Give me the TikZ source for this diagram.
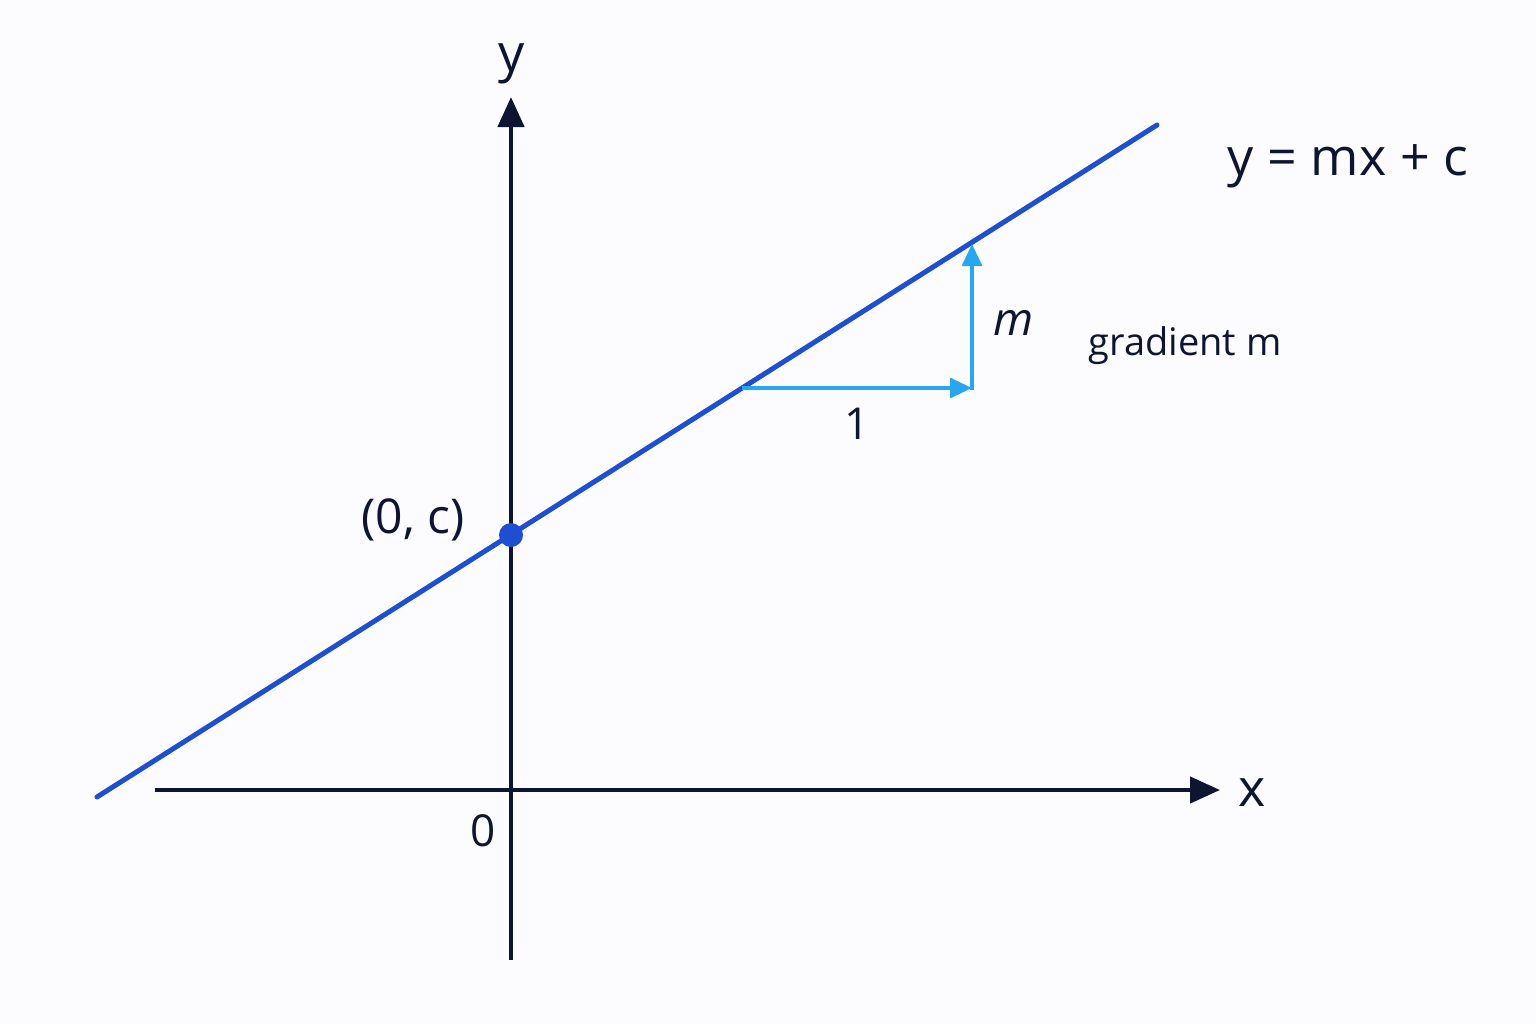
\documentclass[tikz,border=0pt]{standalone}
\usepackage{fontspec}
\setmainfont{Open Sans}
\usetikzlibrary{arrows.meta}
\definecolor{axiscol}{HTML}{0E1533}
\definecolor{linecol}{HTML}{1E4FD0}
\definecolor{stepcol}{HTML}{28A6F0}
\definecolor{bgcol}{HTML}{FCFCFE}
\tikzset{
  axis/.style={draw=axiscol, line width=2.2pt, -{Triangle[length=15pt,width=13pt]}},
  mainline/.style={draw=linecol, line width=2.5pt, line cap=round},
  steparrow/.style={draw=stepcol, line width=1.7pt, -{Triangle[length=11pt,width=10pt]}},
  lbl/.style={text=axiscol, inner sep=0pt, anchor=center},
}
\begin{document}
\begin{tikzpicture}[x=0.5pt,y=-0.5pt]
\fill[bgcol] (0,0) rectangle (1536,1024);
\useasboundingbox (0,0) rectangle (1536,1024);
% axes
\coordinate (xs) at (155,790);
\coordinate (xe) at (1220,790);
\coordinate (ys) at (511,960);
\coordinate (ye) at (511,97);
\draw[axis] (xs) -- (xe);
\draw[axis] (ys) -- (ye);
% main line
\coordinate (ls) at (97,797);
\coordinate (le) at (1157,125);
\draw[mainline] (ls) -- (le);
% intercept
\node[circle, fill=linecol, minimum size=12pt, inner sep=0pt] (dot) at (511,535) {};
% gradient triangle
\coordinate (ta) at (742,388);
\coordinate (tb) at (972,388);
\coordinate (tc) at (972,244);
\draw[steparrow] (ta) -- (tb);
\draw[steparrow, shorten <=-0.85pt] (tb) -- (tc);
% labels
\node[lbl, font=\fontsize{26}{30}\selectfont] (ylab) at (512,64) {y};
\node[lbl, font=\fontsize{26}{30}\selectfont] (xlab) at (1252,793) {x};
\node[lbl, font=\fontsize{22}{26}\selectfont] (zero) at (483,831) {0};
\node[lbl, font=\fontsize{24}{28}\selectfont] (c0) at (413,520) {(0, c)};
\node[lbl, font=\fontsize{22}{26}\selectfont] (one) at (857,424) {1};
\node[lbl, font=\fontsize{23}{27}\selectfont\itshape] (mlab) at (1014,323) {m};
\node[lbl, font=\fontsize{19}{23}\selectfont] (grad) at (1185,346) {gradient m};
\node[lbl, font=\fontsize{26}{30}\selectfont] (eq) at (1348,166) {y = mx + c};
\end{tikzpicture}
\end{document}
